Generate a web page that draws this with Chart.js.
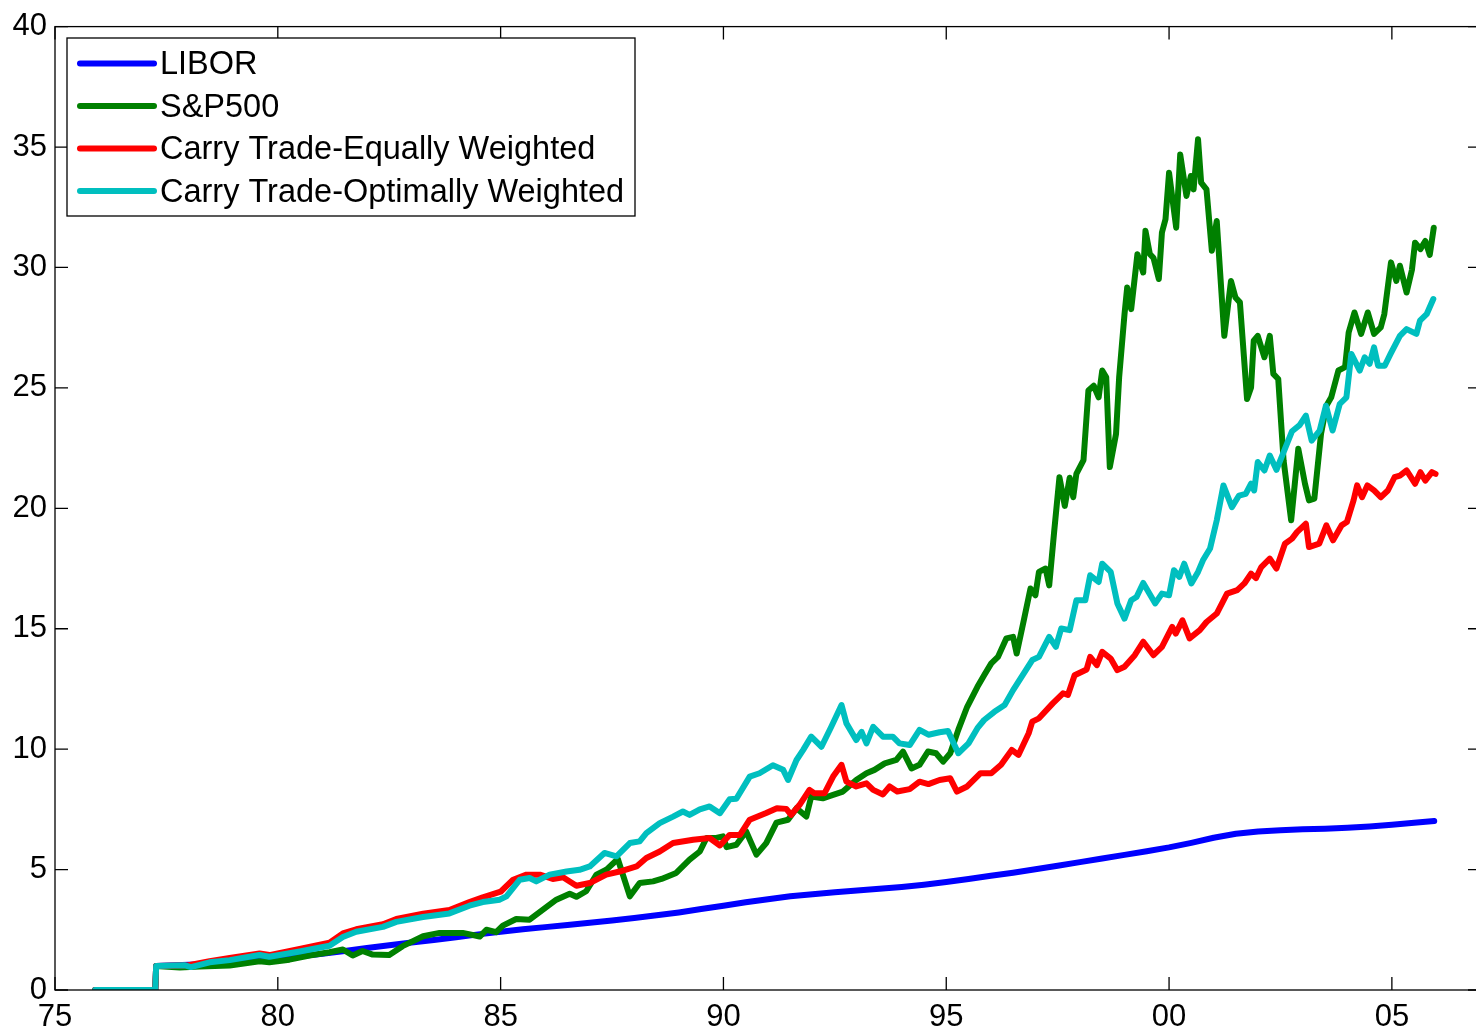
<!DOCTYPE html>
<html>
<head>
<meta charset="utf-8">
<script src="https://cdn.jsdelivr.net/npm/chart.js@4.4.1/dist/chart.umd.min.js"></script>
<style>
    html, body { margin: 0; padding: 0; background: #fff; overflow: hidden; }
    #chart { display: block; }
</style>
</head>
<body>
<canvas id="chart" width="1490" height="1031"></canvas>
<script>
// Series names (legend order)
const seriesNames = ["LIBOR", "S&P500", "Carry Trade-Equally Weighted", "Carry Trade-Optimally Weighted"];
const seriesColors = ["#0000ff", "#008000", "#ff0000", "#00bfbf"];

// x tick positions (years) shown as two-digit labels
const xTickYears = [1975, 1980, 1985, 1990, 1995, 2000, 2005];

const liborYears = [1975.9, 1977.25, 1977.27, 1978, 1978.5, 1979, 1979.5, 1980, 1980.5, 1981, 1981.5, 1982, 1982.5, 1983, 1983.5, 1984, 1984.5, 1985, 1985.5, 1986, 1986.5, 1987, 1987.5, 1988, 1988.5, 1989, 1989.5, 1990, 1990.5, 1991, 1991.5, 1992, 1992.5, 1993, 1993.5, 1994, 1994.5, 1995, 1995.5, 1996, 1996.5, 1997, 1997.5, 1998, 1998.5, 1999, 1999.5, 2000, 2000.5, 2001, 2001.5, 2002, 2002.5, 2003, 2003.5, 2004, 2004.5, 2005, 2005.5, 2005.95];
const liborValues = [0, 0, 1.0, 1.05, 1.09, 1.15, 1.22, 1.31, 1.40, 1.50, 1.62, 1.74, 1.86, 1.97, 2.08, 2.19, 2.31, 2.42, 2.52, 2.61, 2.70, 2.79, 2.89, 2.99, 3.10, 3.22, 3.36, 3.50, 3.64, 3.77, 3.89, 3.98, 4.06, 4.13, 4.20, 4.28, 4.37, 4.48, 4.61, 4.74, 4.87, 5.01, 5.16, 5.31, 5.46, 5.61, 5.76, 5.92, 6.11, 6.32, 6.49, 6.58, 6.63, 6.67, 6.70, 6.74, 6.79, 6.86, 6.94, 7.02];

const spxYears = [1975.9, 1977.25, 1977.27, 1977.8, 1978.25, 1978.92, 1979.59, 1979.81, 1980.26, 1980.71, 1981.16, 1981.46, 1981.68, 1981.9, 1982.13, 1982.5, 1982.8, 1983.26, 1983.63, 1984.15, 1984.53, 1984.68, 1984.9, 1985.05, 1985.35, 1985.65, 1985.95, 1986.25, 1986.55, 1986.7, 1986.92, 1987.15, 1987.37, 1987.63, 1987.9, 1988.12, 1988.42, 1988.61, 1988.94, 1989.24, 1989.47, 1989.62, 1989.84, 1989.99, 1990.07, 1990.29, 1990.51, 1990.74, 1990.96, 1991.19, 1991.45, 1991.64, 1991.86, 1991.97, 1992.23, 1992.46, 1992.68, 1992.98, 1993.21, 1993.39, 1993.62, 1993.88, 1994.03, 1994.22, 1994.4, 1994.59, 1994.77, 1994.93, 1995.09, 1995.27, 1995.47, 1995.7, 1995.85, 1996.01, 1996.16, 1996.35, 1996.5, 1996.58, 1996.74, 1996.89, 1997.0, 1997.08, 1997.23, 1997.31, 1997.42, 1997.54, 1997.66, 1997.77, 1997.85, 1997.92, 1998.08, 1998.19, 1998.31, 1998.42, 1998.5, 1998.59, 1998.67, 1998.81, 1998.88, 1999.0, 1999.06, 1999.15, 1999.29, 1999.42, 1999.47, 1999.57, 1999.65, 1999.77, 1999.84, 1999.92, 2000.0, 2000.16, 2000.25, 2000.39, 2000.49, 2000.55, 2000.65, 2000.72, 2000.84, 2000.96, 2001.07, 2001.24, 2001.39, 2001.49, 2001.59, 2001.75, 2001.84, 2001.9, 2001.99, 2002.14, 2002.26, 2002.34, 2002.45, 2002.57, 2002.74, 2002.9, 2003.05, 2003.14, 2003.26, 2003.41, 2003.53, 2003.64, 2003.8, 2003.95, 2004.03, 2004.16, 2004.31, 2004.46, 2004.6, 2004.75, 2004.83, 2004.98, 2005.1, 2005.18, 2005.33, 2005.45, 2005.52, 2005.64, 2005.75, 2005.85, 2005.94];
const spxValues = [0, 0, 1.0, 0.93, 0.98, 1.02, 1.19, 1.15, 1.26, 1.43, 1.57, 1.68, 1.43, 1.62, 1.47, 1.45, 1.82, 2.23, 2.37, 2.37, 2.22, 2.5, 2.4, 2.67, 2.95, 2.92, 3.34, 3.75, 4.0, 3.87, 4.1, 4.79, 4.99, 5.44, 3.89, 4.44, 4.51, 4.61, 4.86, 5.41, 5.75, 6.31, 6.31, 6.38, 5.93, 6.03, 6.58, 5.62, 6.1, 6.95, 7.07, 7.55, 7.2, 8.03, 7.96, 8.1, 8.24, 8.72, 9.0, 9.14, 9.41, 9.55, 9.9, 9.2, 9.35, 9.9, 9.83, 9.48, 9.83, 10.8, 11.76, 12.59, 13.07, 13.56, 13.83, 14.6, 14.66, 13.97, 15.35, 16.67, 16.39, 17.36, 17.5, 16.8, 19.0, 21.29, 20.1, 21.27, 20.46, 21.43, 22.0, 24.89, 25.09, 24.61, 25.72, 25.44, 21.71, 23.09, 25.44, 28.06, 29.17, 28.27, 30.55, 29.79, 31.52, 30.55, 30.4, 29.52, 31.45, 32.0, 33.93, 31.65, 34.69, 32.97, 33.8, 33.24, 35.32, 33.52, 33.24, 30.69, 31.93, 27.16, 29.44, 28.75, 28.55, 24.54, 25.02, 26.96, 27.16, 26.27, 27.16, 25.58, 25.37, 21.99, 19.5, 22.47, 21.02, 20.33, 20.4, 23.09, 24.26, 24.61, 25.72, 25.86, 27.3, 28.13, 27.24, 28.13, 27.24, 27.51, 28.06, 30.21, 29.44, 30.07, 28.96, 29.9, 31.03, 30.76, 31.1, 30.52, 31.65];

const ewYears = [1975.9, 1977.25, 1977.27, 1978.0, 1978.47, 1978.92, 1979.59, 1979.81, 1980.49, 1981.16, 1981.46, 1981.76, 1982.36, 1982.66, 1983.26, 1983.85, 1984.3, 1984.6, 1985.0, 1985.28, 1985.58, 1985.88, 1986.17, 1986.4, 1986.7, 1987.0, 1987.37, 1987.67, 1988.05, 1988.27, 1988.57, 1988.87, 1989.32, 1989.69, 1989.92, 1990.14, 1990.37, 1990.59, 1990.96, 1991.2, 1991.41, 1991.52, 1991.71, 1991.93, 1992.04, 1992.27, 1992.46, 1992.65, 1992.76, 1992.98, 1993.21, 1993.36, 1993.58, 1993.73, 1993.9, 1994.18, 1994.4, 1994.6, 1994.85, 1995.09, 1995.24, 1995.47, 1995.77, 1996.01, 1996.23, 1996.47, 1996.62, 1996.85, 1996.93, 1997.08, 1997.39, 1997.62, 1997.73, 1997.88, 1998.15, 1998.23, 1998.38, 1998.5, 1998.69, 1998.84, 1999.0, 1999.23, 1999.42, 1999.65, 1999.84, 2000.07, 2000.15, 2000.3, 2000.46, 2000.69, 2000.84, 2001.07, 2001.3, 2001.53, 2001.69, 2001.84, 2001.95, 2002.07, 2002.26, 2002.41, 2002.6, 2002.76, 2002.87, 2003.07, 2003.14, 2003.37, 2003.53, 2003.68, 2003.87, 2003.99, 2004.14, 2004.22, 2004.33, 2004.45, 2004.6, 2004.75, 2004.91, 2005.06, 2005.18, 2005.33, 2005.52, 2005.64, 2005.75, 2005.9, 2005.98];
const ewValues = [0, 0, 1.0, 1.03, 1.2, 1.33, 1.52, 1.45, 1.7, 1.96, 2.35, 2.52, 2.73, 2.95, 3.17, 3.32, 3.65, 3.85, 4.08, 4.58, 4.79, 4.79, 4.61, 4.68, 4.33, 4.44, 4.79, 4.92, 5.13, 5.48, 5.75, 6.1, 6.24, 6.31, 6.0, 6.44, 6.44, 7.07, 7.35, 7.55, 7.52, 7.27, 7.69, 8.31, 8.17, 8.17, 8.86, 9.35, 8.65, 8.45, 8.58, 8.31, 8.12, 8.45, 8.24, 8.34, 8.65, 8.55, 8.72, 8.79, 8.24, 8.45, 9.0, 9.0, 9.35, 9.97, 9.76, 10.66, 11.14, 11.28, 11.9, 12.32, 12.25, 13.07, 13.31, 13.83, 13.49, 14.04, 13.76, 13.28, 13.42, 13.9, 14.46, 13.9, 14.25, 15.08, 14.8, 15.35, 14.6, 14.94, 15.28, 15.63, 16.46, 16.6, 16.88, 17.29, 17.1, 17.56, 17.91, 17.5, 18.53, 18.74, 19.01, 19.36, 18.39, 18.53, 19.29, 18.67, 19.29, 19.43, 20.33, 20.95, 20.46, 20.95, 20.74, 20.46, 20.74, 21.29, 21.36, 21.57, 21.02, 21.5, 21.15, 21.5, 21.43];

const owYears = [1975.9, 1977.25, 1977.27, 1977.9, 1978.05, 1978.47, 1978.92, 1979.59, 1979.81, 1980.49, 1981.16, 1981.46, 1981.76, 1982.36, 1982.66, 1983.26, 1983.85, 1984.3, 1984.6, 1984.98, 1985.13, 1985.43, 1985.65, 1985.8, 1986.1, 1986.48, 1986.77, 1987.0, 1987.33, 1987.6, 1987.9, 1988.12, 1988.27, 1988.57, 1988.87, 1989.09, 1989.24, 1989.47, 1989.69, 1989.92, 1990.14, 1990.29, 1990.59, 1990.81, 1991.11, 1991.34, 1991.45, 1991.64, 1991.79, 1991.97, 1992.2, 1992.42, 1992.65, 1992.76, 1992.98, 1993.1, 1993.21, 1993.36, 1993.58, 1993.8, 1993.95, 1994.18, 1994.4, 1994.6, 1994.85, 1995.04, 1995.27, 1995.5, 1995.7, 1995.85, 1996.08, 1996.31, 1996.5, 1996.69, 1996.93, 1997.08, 1997.31, 1997.46, 1997.58, 1997.77, 1997.92, 1998.12, 1998.23, 1998.42, 1998.5, 1998.69, 1998.84, 1999.0, 1999.15, 1999.27, 1999.42, 1999.69, 1999.84, 2000.0, 2000.11, 2000.23, 2000.34, 2000.5, 2000.65, 2000.76, 2000.92, 2001.07, 2001.22, 2001.41, 2001.57, 2001.72, 2001.84, 2001.91, 2001.99, 2002.14, 2002.26, 2002.41, 2002.6, 2002.76, 2002.93, 2003.07, 2003.2, 2003.38, 2003.52, 2003.67, 2003.83, 2003.98, 2004.09, 2004.28, 2004.39, 2004.5, 2004.6, 2004.69, 2004.84, 2004.97, 2005.18, 2005.33, 2005.55, 2005.63, 2005.78, 2005.93];
const owValues = [0, 0, 1.0, 1.03, 0.95, 1.15, 1.24, 1.45, 1.38, 1.6, 1.84, 2.2, 2.42, 2.62, 2.83, 3.03, 3.18, 3.5, 3.65, 3.75, 3.89, 4.58, 4.65, 4.51, 4.79, 4.92, 4.99, 5.13, 5.69, 5.55, 6.1, 6.17, 6.51, 6.93, 7.2, 7.41, 7.27, 7.5, 7.62, 7.34, 7.92, 7.94, 8.86, 9.0, 9.33, 9.14, 8.72, 9.55, 9.97, 10.52, 10.1, 10.93, 11.83, 11.07, 10.38, 10.72, 10.24, 10.93, 10.52, 10.52, 10.24, 10.17, 10.8, 10.6, 10.7, 10.75, 9.83, 10.24, 10.87, 11.21, 11.55, 11.83, 12.45, 13.0, 13.7, 13.83, 14.66, 14.25, 15.01, 14.94, 16.18, 16.18, 17.22, 16.94, 17.7, 17.36, 16.05, 15.42, 16.18, 16.32, 16.9, 16.05, 16.46, 16.39, 17.43, 17.15, 17.7, 16.88, 17.36, 17.84, 18.33, 19.5, 20.95, 20.05, 20.53, 20.6, 21.02, 20.74, 21.92, 21.57, 22.19, 21.6, 22.47, 23.2, 23.45, 23.85, 22.81, 23.23, 24.26, 23.23, 24.33, 24.61, 26.41, 25.72, 26.27, 26.0, 26.68, 25.92, 25.92, 26.41, 27.16, 27.44, 27.24, 27.79, 28.06, 28.69];

function toPoints(xs, ys) {
    return xs.map((x, i) => ({ x: x, y: ys[i] }));
}

const allSeries = [
    toPoints(liborYears, liborValues),
    toPoints(spxYears, spxValues),
    toPoints(ewYears, ewValues),
    toPoints(owYears, owValues)
];

const FONT = "'Liberation Sans', Arial, Helvetica, sans-serif";
const LINE_W = 6;

// MATLAB-like box: full frame with inward ticks on all four sides, plus legend
const boxPlugin = {
    id: 'box',
    afterDraw(chart) {
        const ctx = chart.ctx;
        const a = chart.chartArea;
        const tickLen = 13;
        ctx.save();
        ctx.strokeStyle = '#000';
        ctx.lineWidth = 1.3;
        ctx.strokeRect(a.left, a.top, a.right - a.left, a.bottom - a.top);
        ctx.beginPath();
        chart.scales.x.ticks.forEach(t => {
            const px = chart.scales.x.getPixelForValue(t.value);
            ctx.moveTo(px, a.bottom); ctx.lineTo(px, a.bottom - tickLen);
            ctx.moveTo(px, a.top); ctx.lineTo(px, a.top + tickLen);
        });
        chart.scales.y.ticks.forEach(t => {
            const py = chart.scales.y.getPixelForValue(t.value);
            ctx.moveTo(a.left, py); ctx.lineTo(a.left + tickLen, py);
            ctx.moveTo(a.right, py); ctx.lineTo(a.right - tickLen, py);
        });
        ctx.stroke();

        // legend box
        const lx = 67, ly = 38, lw = 568, lh = 178;
        ctx.fillStyle = '#fff';
        ctx.fillRect(lx, ly, lw, lh);
        ctx.lineWidth = 1.3;
        ctx.strokeRect(lx, ly, lw, lh);
        ctx.font = '32.5px ' + FONT;
        ctx.textBaseline = 'middle';
        ctx.textAlign = 'left';
        chart.data.datasets.forEach((ds, i) => {
            const rowY = 63.5 + i * 42.5;
            ctx.strokeStyle = ds.borderColor;
            ctx.lineWidth = LINE_W;
            ctx.lineCap = 'round';
            ctx.beginPath();
            ctx.moveTo(80, rowY);
            ctx.lineTo(154, rowY);
            ctx.stroke();
            ctx.fillStyle = '#000';
            ctx.fillText(ds.label, 160, rowY + 2);
        });
        ctx.restore();
    }
};

const ctx = document.getElementById('chart').getContext('2d');

new Chart(ctx, {
    type: 'line',
    data: {
        datasets: allSeries.map((pts, i) => ({
            label: seriesNames[i],
            data: pts,
            borderColor: seriesColors[i],
            backgroundColor: seriesColors[i],
            borderWidth: LINE_W,
            borderJoinStyle: 'round',
            borderCapStyle: 'round',
            pointRadius: 0,
            tension: 0,
            fill: false,
            order: 3 - i
        }))
    },
    options: {
        responsive: false,
        animation: false,
        devicePixelRatio: 1,
        layout: { padding: { top: 25, right: 9, left: 0, bottom: 0 } },
        plugins: {
            legend: { display: false },
            tooltip: { enabled: false }
        },
        scales: {
            x: {
                type: 'linear',
                min: 1975,
                max: 2007,
                afterFit: scale => { scale.height = 41; },
                afterBuildTicks: scale => {
                    scale.ticks = xTickYears.map(v => ({ value: v }));
                },
                grid: { display: false, drawTicks: false },
                border: { display: false },
                ticks: {
                    padding: 9,
                    color: '#000',
                    font: { family: FONT, size: 31 },
                    maxRotation: 0,
                    autoSkip: false,
                    callback: v => String(v % 100).padStart(2, '0')
                }
            },
            y: {
                min: 0,
                max: 40,
                afterFit: scale => { scale.width = 55; },
                grid: { display: false, drawTicks: false },
                border: { display: false },
                ticks: {
                    stepSize: 5,
                    padding: 8,
                    color: '#000',
                    font: { family: FONT, size: 31 }
                }
            }
        }
    },
    plugins: [boxPlugin]
});
</script>
</body>
</html>
